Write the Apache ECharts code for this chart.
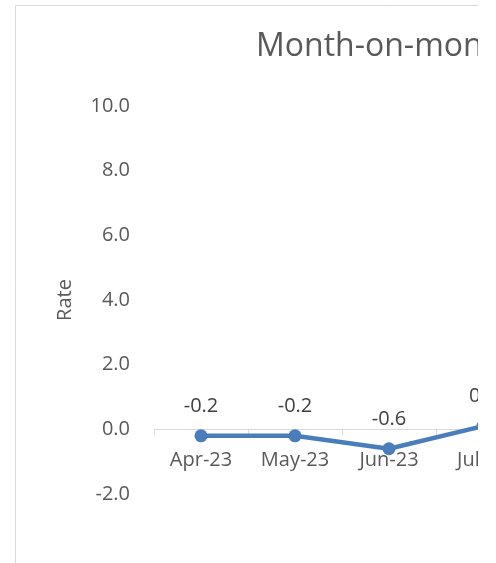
<!DOCTYPE html>
<html>
<head>
<meta charset="utf-8">
<script src="https://cdn.jsdelivr.net/npm/echarts@6/dist/echarts.min.js"></script>
<style>
  html, body { margin: 0; padding: 0; background: #ffffff; }
  #clip { position: absolute; left: 0; top: 0; width: 478px; height: 563px; overflow: hidden; }
  #chart { position: absolute; left: 0; top: 0; width: 760px; height: 563px; }
</style>
</head>
<body>
<div id="clip"><div id="chart"></div></div>
<script>
// Data read from the (cropped) reference picture
const categories = ['Apr-23', 'May-23', 'Jun-23', 'Jul-23'];
const rateValues = [-0.2, -0.2, -0.6, 0.1];
const titleText = 'Month-on-month';
const yAxisName = 'Rate';
const yMin = -2, yMax = 10, yStep = 2;

const chart = echarts.init(document.getElementById('chart'), null, { renderer: 'canvas' });
const FONT = '"Open Sans", "Noto Sans", sans-serif';

chart.setOption({
  animation: false,
  backgroundColor: '#ffffff',
  graphic: [{
    type: 'rect',
    shape: { x: 15.5, y: 5.5, width: 1000, height: 1000 },
    style: { fill: 'none', stroke: '#d9d9d9', lineWidth: 1 },
    silent: true
  }],
  title: {
    text: titleText,
    left: 251,
    top: 26,
    textStyle: { fontFamily: FONT, fontSize: 32, fontWeight: 'normal', color: '#595959' }
  },
  grid: { left: 154, top: 106, width: 376, height: 388 },
  xAxis: {
    type: 'category',
    data: categories,
    boundaryGap: true,
    axisLine: { onZero: true, lineStyle: { color: '#d9d9d9', width: 1 } },
    axisTick: { show: true, length: 6, lineStyle: { color: '#d9d9d9' } },
    axisLabel: { fontFamily: FONT, fontSize: 20, color: '#595959', margin: -44 },
    splitLine: { show: false }
  },
  yAxis: {
    type: 'value',
    min: yMin, max: yMax, interval: yStep,
    name: yAxisName,
    nameLocation: 'middle',
    nameGap: 79,
    nameRotate: 90,
    nameTextStyle: { fontFamily: FONT, fontSize: 20, color: '#595959' },
    axisLine: { show: false },
    axisTick: { show: false },
    splitLine: { show: false },
    axisLabel: {
      fontFamily: FONT, fontSize: 20, color: '#595959', margin: 24,
      formatter: v => v.toFixed(1)
    }
  },
  series: [{
    type: 'line',
    data: rateValues,
    symbol: 'circle',
    symbolSize: 13,
    lineStyle: { color: '#4a7ebb', width: 4.5 },
    itemStyle: { color: '#4a7ebb' },
    label: {
      show: true, position: 'top', distance: 13,
      fontFamily: FONT, fontSize: 20, color: '#404040',
      formatter: p => p.value.toFixed(1)
    }
  }]
});
</script>
</body>
</html>
